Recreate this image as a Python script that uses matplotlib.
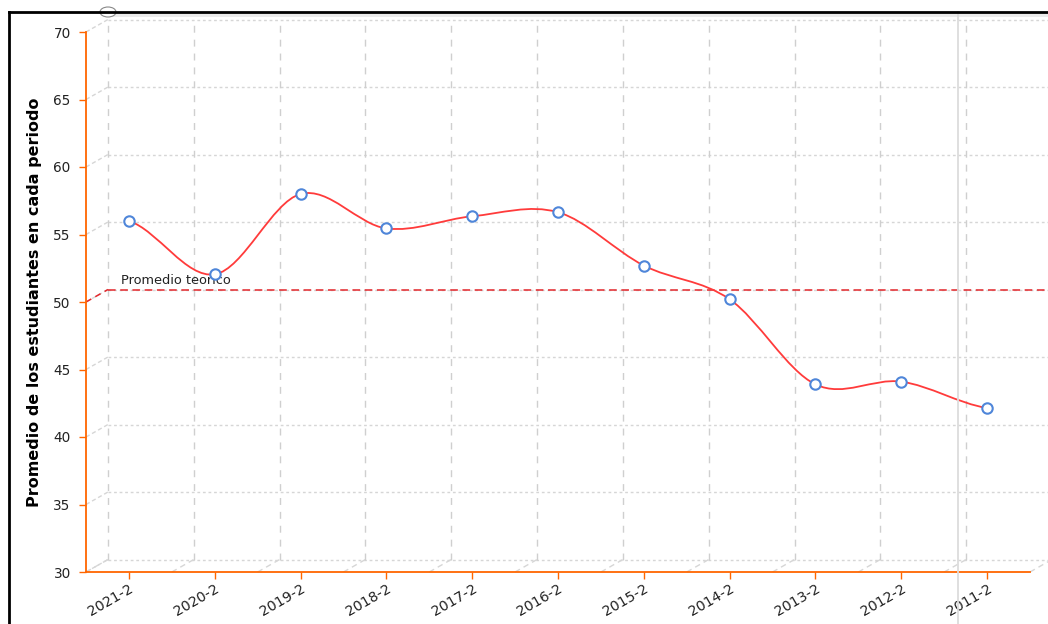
import numpy as np
import matplotlib
matplotlib.use("Agg")
import matplotlib.pyplot as plt
from matplotlib.path import Path
from matplotlib.patches import PathPatch, Ellipse, Rectangle
from matplotlib.lines import Line2D

periodos = ["2021-2", "2020-2", "2019-2", "2018-2", "2017-2", "2016-2",
            "2015-2", "2014-2", "2013-2", "2012-2", "2011-2"]
promedios = [56.0, 52.05, 58.0, 55.45, 56.35, 56.65, 52.7, 50.2, 43.9, 44.1, 42.15]
promedio_teorico = 50
y_ticks = [30, 35, 40, 45, 50, 55, 60, 65, 70]

W, H = 1048, 624
fig = plt.figure(figsize=(W / 100, H / 100), dpi=100)

# front frame of the pseudo-3D plot, in pixels
left, right, top, bottom = 86, 1030, 32, 572
ax = fig.add_axes([left / W, (H - bottom) / H, (right - left) / W, (bottom - top) / H])
n = len(periodos)
ax.set_xlim(-0.5, n - 0.5)
ax.set_ylim(30, 70)

# depth offset of the back wall, in data units
px_x = (right - left) / n
px_y = (bottom - top) / 40
dx = 22 / px_x
dy = 12.5 / px_y

orange = "#ff6600"
grid_v = "#cfcfcf"
grid_h = "#d6d6d6"

# back wall grid
x_end = n - 0.5 + dx + 0.5
for v in y_ticks:
    ax.plot([-0.5 + dx, x_end], [v + dy, v + dy], color=grid_h, lw=1,
            linestyle=(0, (2, 2)), clip_on=False, zorder=1)
    ax.plot([-0.5, -0.5 + dx], [v, v + dy], color=grid_h, lw=1,
            linestyle=(0, (3, 2)), clip_on=False, zorder=1)
for k in range(n + 1):
    xb = -0.5 + k + dx
    ax.plot([xb, xb], [30 + dy, 70 + dy], color=grid_v, lw=1,
            linestyle=(0, (5, 5)), clip_on=False, zorder=1)
    ax.plot([-0.5 + k, xb], [30, 30 + dy], color=grid_h, lw=1,
            linestyle=(0, (4, 3)), clip_on=False, zorder=1)

# guide line (drawn on back wall)
ax.plot([-0.5 + dx, x_end], [promedio_teorico + dy] * 2, color="#e3262b", lw=1.1,
        linestyle=(0, (5, 3)), clip_on=False, zorder=2)
ax.plot([-0.5, -0.5 + dx], [promedio_teorico, promedio_teorico + dy], color="#e3262b",
        lw=1.1, linestyle=(0, (4, 3)), clip_on=False, zorder=2)
ax.text(-0.5 + dx + 0.15, promedio_teorico + dy + 0.15, "Promedio teorico",
        fontsize=9.3, color="#222222", va="bottom", ha="left", zorder=3)

# smoothed line (Catmull-Rom as cubic Bezier)
xs = np.arange(n, dtype=float)
ys = np.array(promedios)
m = np.zeros(n)
m[1:-1] = (ys[2:] - ys[:-2]) / 2
m[0] = (ys[1] - ys[0]) / 2
m[-1] = (ys[-1] - ys[-2]) / 2
verts = [(xs[0], ys[0])]
codes = [Path.MOVETO]
for i in range(n - 1):
    verts += [(xs[i] + 1 / 3, ys[i] + m[i] / 3),
              (xs[i + 1] - 1 / 3, ys[i + 1] - m[i + 1] / 3),
              (xs[i + 1], ys[i + 1])]
    codes += [Path.CURVE4] * 3
ax.add_patch(PathPatch(Path(verts, codes), fill=False, edgecolor="#ff3b3b", lw=1.3, zorder=4))
ax.plot(xs, ys, linestyle="none", marker="o", markersize=7.5, markerfacecolor="white",
        markeredgecolor="#4f86d9", markeredgewidth=1.5, zorder=5)

# axes styling
for s in ["top", "right"]:
    ax.spines[s].set_visible(False)
for s in ["left", "bottom"]:
    ax.spines[s].set_color(orange)
    ax.spines[s].set_linewidth(1.3)
ax.set_xticks(xs)
ax.set_xticklabels(periodos, rotation=30, ha="right", rotation_mode="anchor")
ax.set_yticks(y_ticks)
ax.tick_params(axis="both", direction="out", length=5, width=1, color=orange,
               labelcolor="#222222")
ax.tick_params(axis="y", pad=6, labelsize=9.8)
ax.tick_params(axis="x", pad=2, labelsize=10.2)
ax.set_ylabel("Promedio de los estudiantes en cada periodo", fontsize=11.5,
              fontweight="bold", color="black", labelpad=8)
ax.patch.set_alpha(0)

# frame decorations on the figure
fig.add_artist(Rectangle((108 / W, 1 - 17 / H), (W - 108) / W, 4 / H,
                         transform=fig.transFigure, facecolor="#ebebeb", edgecolor="none"))
fig.add_artist(Line2D([958 / W, 958 / W], [0, 1 - 12 / H], color="#dcdcdc", lw=1.3))
fig.add_artist(Line2D([9 / W, 9 / W], [0, 1 - 12 / H], color="black", lw=2))
fig.add_artist(Line2D([9 / W, 1], [1 - 12 / H, 1 - 12 / H], color="black", lw=2))
fig.add_artist(Ellipse((108 / W, 1 - 12 / H), 16 / W, 10 / H, transform=fig.transFigure,
                       facecolor="white", edgecolor="#888888", lw=0.8))

fig.savefig("out.png", dpi=100)
